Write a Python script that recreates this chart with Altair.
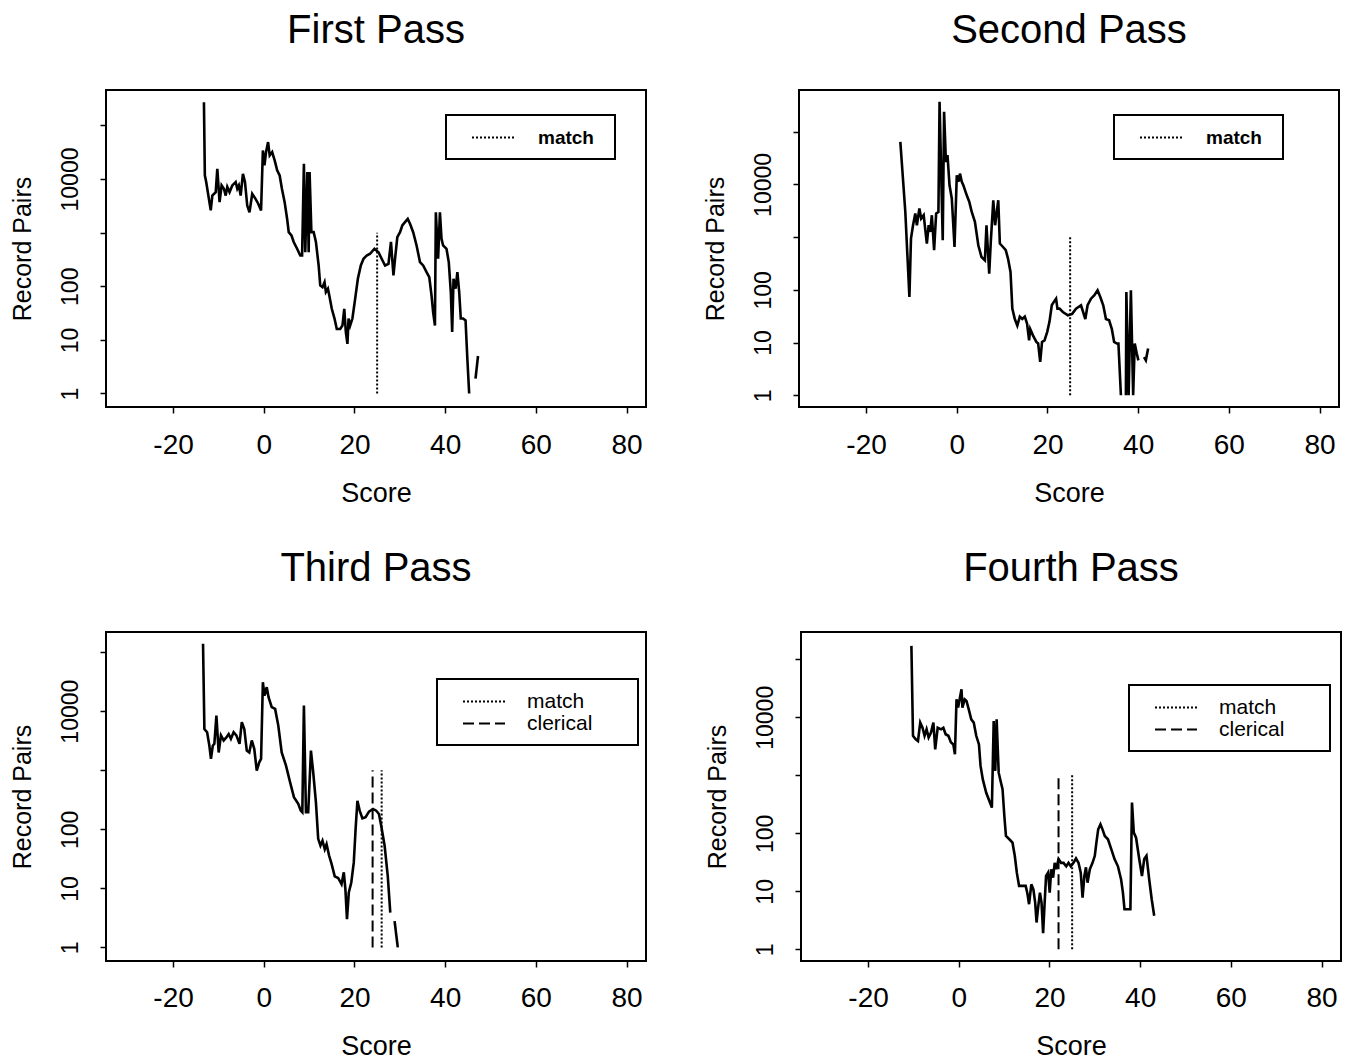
import altair as alt
import pandas as pd

# ---------------- data ----------------
X_TICKS = [-20, 0, 20, 40, 60, 80]
Y_TICKS = [1, 10, 100, 1000, 10000, 100000]

# First pass
p1_score_a = [-13.2, -13.0, -12.7, -11.7, -11.35, -10.6, -10.25, -9.75, -9.3, -8.8, -8.4, -8.05, -7.55, -6.95,
              -6.2, -5.85, -5.5, -5.1, -4.6, -4.15, -3.65, -3.15, -2.55, -1.85, -1.25, -0.6, -0.2, 0.15, 0.5,
              0.95, 1.3, 1.85, 2.4, 2.95, 3.5, 4.0, 4.6, 5.15, 5.5, 6.1, 6.6, 7.35, 8.05, 8.45, 8.85, 9.15,
              9.6, 9.9, 10.1, 10.5, 11.0, 11.5, 12.1, 12.45, 12.95, 13.4, 13.7, 14.15, 14.45, 15.0, 15.6,
              16.1, 16.85, 17.35, 17.75, 18.1, 18.45, 18.7, 19.05, 19.55, 20.15, 20.75, 21.4, 22.0, 22.7,
              23.45, 24.4, 25.3, 26.0, 26.75, 27.5, 28.05, 28.6, 28.95, 29.45, 30.05, 30.55, 31.15, 31.75,
              32.25, 32.95, 33.7, 34.45, 35.15, 35.9, 36.5, 37.0, 37.35, 37.75, 37.95, 38.45, 38.85, 39.2,
              39.55, 40.3, 40.8, 41.25, 41.55, 41.85, 42.3, 42.7, 43.1, 43.45, 43.95, 44.5, 44.9, 45.3]
p1_pairs_a = [270000, 11700, 8800, 2600, 4900, 5700, 15500, 3700, 7600, 6600, 4900, 7100, 5700, 7600,
              8800, 6600, 7600, 4900, 12500, 8800, 3200, 2400, 5300, 4300, 3500, 2600, 34000, 17900, 31800,
              48900, 27500, 31800, 22200, 14500, 11700, 6600, 3700, 1800, 1020, 890, 670, 500, 375, 375, 19300, 430,
              13500, 430, 13500, 1020, 1020, 670, 244, 104, 96, 119, 78, 90, 67, 38, 25,
              16, 16, 18.5, 38, 14, 8.4, 25, 18.5, 25, 58, 138, 244, 325, 375,
              404, 500, 430, 325, 244, 262, 670, 159, 325, 820, 1020, 1360, 1570, 1800,
              1460, 1020, 577, 282, 244, 183, 148, 67, 33, 18.5, 2400, 325, 2400, 770,
              577, 500, 282, 78, 14, 138, 90, 183, 78, 25, 25, 23, 4.4, 1]
p1_score_b = [46.7, 47.25]
p1_pairs_b = [1.9, 5]
p1_cut_score = [25]
p1_cut_type = ["match"]

# Second pass
p2_score_a = [-12.45, -11.35, -10.45, -10.1, -9.65, -9.15, -8.8, -8.25, -7.85, -7.3, -6.6, -6.2, -5.85, -5.5,
              -5.0, -4.55, -4.05, -3.8, -3.1, -2.8, -2.4, -2.05, -1.6, -1.1, -0.5, 0.0, 0.35, 0.7, 1.1, 1.45,
              2.2, 2.75, 3.3, 4.0, 4.75, 5.45, 6.2, 6.55, 7.15, 7.5, 8.05, 8.45, 9.15, 9.5, 10.2, 10.8, 11.3,
              11.85, 12.25, 12.8, 13.35, 13.9, 14.45, 15.0, 15.5, 15.95, 16.2, 16.8, 17.55, 17.95, 18.4, 18.8,
              19.35, 19.95, 20.45, 20.95, 21.4, 21.9, 22.2, 22.65, 23.4, 24.5, 25.45, 26.3, 27.4, 28.35, 28.85,
              29.6, 30.35, 31.05, 31.65, 32.3, 32.9, 33.6, 34.2, 34.7, 35.3, 35.65, 36.2]
p2_pairs_a = [64000, 3000, 73, 940, 1680, 2800, 1680, 3500, 2250, 2600, 755, 1680, 1260, 2600,
              564, 2800, 3000, 368000, 873, 238000, 26700, 35800, 9600, 5400, 650, 14900, 11200, 16000, 11200, 9600,
              6200, 4700, 3000, 1950, 700, 420, 364, 1680, 203, 811, 5000, 1680, 5000, 755, 650, 564, 392,
              219, 44, 28, 21, 31, 28, 31, 23, 11, 18, 13.7, 10.3, 9.6, 4.3, 10.3,
              11, 16, 25, 51, 59, 68, 44, 44, 38, 33, 35, 44, 51, 28, 51,
              68, 79, 98, 73, 51, 28, 26.5, 18, 10.3, 9.6, 9.6, 1]
p2_score_b = [37.3, 37.4, 37.9, 38.4, 38.9, 39.25, 39.7, 40.05]
p2_pairs_b = [1, 91, 1, 98, 1, 9.6, 6.2, 4.6]
p2_score_c = [41.3, 41.7, 42.2]
p2_pairs_c = [5.3, 4.6, 7.7]
p2_cut_score = [25]
p2_cut_type = ["match"]

# Third pass
p3_score_a = [-13.4, -13.1, -12.5, -12.0, -11.65, -11.25, -10.9, -10.45, -9.95, -9.45, -8.85, -8.25, -7.75,
              -7.25, -6.65, -6.05, -5.35, -4.85, -4.3, -3.75, -3.2, -2.65, -2.1, -1.55, -1.0, -0.6, -0.2, 0.15,
              0.65, 1.05, 1.75, 2.5, 3.2, 3.95, 4.9, 5.8, 6.65, 7.6, 8.15, 8.5, 8.85, 9.3, 9.8, 10.4, 10.9,
              11.5, 12.0, 12.5, 12.95, 13.45, 13.85, 14.4, 14.95, 15.65, 16.4, 17.15, 17.65, 18.0, 18.35,
              18.75, 19.3, 19.85, 20.25, 20.65, 21.15, 21.75, 22.45, 23.2, 24.1, 24.8, 25.4, 25.9, 26.65,
              27.35, 27.9]
p3_pairs_a = [138000, 5000, 4400, 2600, 1560, 2600, 2800, 8400, 2000, 3900, 3200, 3600, 4100,
              3400, 4400, 3900, 2800, 6500, 5000, 2150, 2000, 3200, 2300, 990, 1360, 1560, 31000, 18400,
              25500, 17300, 11700, 10900, 5700, 2000, 1200, 625, 350, 270, 207, 194, 12500, 194, 194, 2150, 925,
              287, 69, 53, 64, 46, 56, 36, 26, 16, 15, 11.8, 18.7, 9.7, 3.0,
              8.5, 12.6, 27.5, 101, 305, 207, 153, 160, 199, 221, 207, 182, 115, 53,
              16, 3.9]
p3_score_b = [28.85, 29.55]
p3_pairs_b = [2.8, 1]
p3_cut_score = [26, 24]
p3_cut_type = ["match", "clerical"]

# Fourth pass
p4_score_a = [-10.45, -10.1, -9.55, -9.0, -8.5, -8.0, -7.55, -7.1, -6.65, -6.15, -5.6, -5.2, -4.65, -3.9,
              -3.4, -2.9, -2.3, -1.75, -1.2, -0.85, -0.5, -0.15, 0.25, 0.6, 0.8, 1.3, 1.7, 2.2, 2.75, 3.3,
              3.85, 4.45, 4.8, 5.3, 6.05, 6.75, 7.3, 7.7, 8.05, 8.35, 8.8, 9.3, 9.65, 10.05, 10.4, 11.15,
              11.85, 12.35, 12.8, 13.3, 14.05, 14.75, 15.1, 15.5, 16.0, 16.45, 16.85, 17.15, 17.45, 17.9,
              18.25, 18.6, 18.9, 19.25, 19.7, 20.05, 20.4, 20.8, 21.15, 21.5, 22.0, 22.55, 23.1, 23.7, 24.2,
              24.7, 25.3, 25.85, 26.4, 26.9, 27.3, 27.7, 28.05, 28.4, 28.9, 29.5, 30.0, 30.35, 30.75, 31.25,
              31.7, 32.2, 32.9, 33.65, 34.35, 35.1, 35.8, 36.2, 36.55, 37.25, 37.85, 38.2, 38.6, 39.1, 39.8,
              40.4, 40.9, 41.4, 42.0, 42.55, 43.1]
p4_pairs_a = [170000, 4800, 4200, 3900, 8100, 6600, 4800, 6200, 4500, 5400, 8100, 2800, 6600, 6200,
              6600, 5100, 4800, 3700, 3400, 2300, 20400, 14700, 21800, 30400, 14700, 20400, 19100, 13700, 9200, 8100,
              4800, 3400, 1450, 850, 500, 360, 277, 8600, 1190, 9200, 1110, 750, 575, 199, 90, 79,
              69, 41, 21, 12.4, 12.4, 12.4, 9.5, 6.0, 13.2, 10.8, 6.4, 2.9, 4.9, 9.5,
              6.4, 1.9, 5.6, 18.4, 21, 9.5, 24, 17.2, 31, 24, 36, 31, 31, 27, 31,
              27, 31, 37, 31, 21, 7.8, 18.4, 26, 14.1, 24, 31, 41, 69, 117, 143,
              117, 90, 79, 53, 36, 27, 16, 9.5, 4.9, 4.9, 4.9, 338, 103, 84, 36,
              18.4, 36, 41, 16, 7.3, 3.8]
p4_cut_score = [25, 22]
p4_cut_type = ["match", "clerical"]

CUT_LOW = 1
CUT_HIGH = 1000

# ---------------- styling / layout ----------------
FONT = "Liberation Sans"
X_DOMAIN = [-34.8, 84.3]
W = 540
DASHES = {"match": [2, 2], "clerical": [11, 5]}


def series(parts):
    rows = []
    for seg, (sc, pr) in enumerate(parts):
        for s, p in zip(sc, pr):
            rows.append({"score": s, "pairs": p, "seg": seg})
    return pd.DataFrame(rows)


def panel(title, parts, cut_score, cut_type, ydom, height, leg_xy, leg_weight, leg_font, leg_lab_off,
          leg_tail, title_off, xlab_pad):
    df = series(parts)
    cuts = pd.DataFrame({"score": cut_score, "type": cut_type,
                         "lo": [CUT_LOW] * len(cut_score), "hi": [CUT_HIGH] * len(cut_score)})
    order = [t for t in ["match", "clerical"] if t in cut_type]
    xscale = alt.Scale(domain=X_DOMAIN, nice=False, zero=False)
    yscale = alt.Scale(type="log", domain=ydom, nice=False)
    xaxis = alt.Axis(values=X_TICKS, labelExpr="'' + datum.value", title="Score", grid=False,
                     domain=False, tickColor="black", tickWidth=1.5, tickSize=6, labelPadding=xlab_pad,
                     labelFontSize=28, labelFont=FONT, labelColor="black", titleFont=FONT,
                     titleFontSize=27, titleFontWeight="normal", titleColor="black", titlePadding=21)
    yaxis = alt.Axis(values=Y_TICKS,
                     labelExpr="(datum.value == 1000 || datum.value == 100000) ? '' : '' + datum.value",
                     title="Record Pairs", grid=False, domain=False, tickColor="black", tickWidth=1.5,
                     tickSize=6, labelAngle=-90, labelPadding=18, labelFontSize=23, labelFont=FONT,
                     labelColor="black", titleFont=FONT, titleFontSize=25, titleFontWeight="normal",
                     titleColor="black", titlePadding=24, labelOverlap=False)
    line = alt.Chart(df).mark_line(color="black", strokeWidth=2.6, strokeJoin="miter").encode(
        x=alt.X("score:Q", scale=xscale, axis=xaxis),
        y=alt.Y("pairs:Q", scale=yscale, axis=yaxis),
        detail="seg:N",
        order="score:Q",
    )
    rules = alt.Chart(cuts).mark_rule(color="black", strokeWidth=2).encode(
        x=alt.X("score:Q", scale=xscale),
        y=alt.Y("lo:Q", scale=yscale),
        y2="hi:Q",
        strokeDash=alt.StrokeDash(
            "type:N",
            scale=alt.Scale(domain=order, range=[DASHES[t] for t in order]),
            legend=alt.Legend(title="M" * leg_tail, titleOrient="right", titleFontSize=10, titleOpacity=0,
                              titlePadding=1, titleFont=FONT,
                              orient="none", legendX=leg_xy[0], legendY=leg_xy[1],
                              symbolType="M-2,0L2,0", symbolStrokeColor="black", symbolStrokeWidth=2,
                              symbolFillColor="transparent",
                              symbolSize=441, symbolOffset=24.5, labelOffset=leg_lab_off, labelFont=FONT,
                              labelFontSize=leg_font, labelFontWeight=leg_weight, labelColor="black",
                              padding=11, rowPadding=0, strokeColor="black", fillColor="white"),
        ),
    )
    return alt.layer(line, rules).properties(
        width=W, height=height,
        title=alt.TitleParams(title, font=FONT, fontSize=40, fontWeight="normal", color="black",
                              anchor="middle", offset=title_off),
    )


c1 = panel("First Pass", [(p1_score_a, p1_pairs_a), (p1_score_b, p1_pairs_b)],
           p1_cut_score, p1_cut_type, [0.56, 457000], 317, (340, 25), "bold", 19, 33.5, 1, 39, 18)
c2 = panel("Second Pass", [(p2_score_a, p2_pairs_a), (p2_score_b, p2_pairs_b), (p2_score_c, p2_pairs_c)],
           p2_cut_score, p2_cut_type, [0.60, 617000], 317, (315, 25), "bold", 19, 33.5, 1, 39, 18)
c3 = panel("Third Pass", [(p3_score_a, p3_pairs_a), (p3_score_b, p3_pairs_b)],
           p3_cut_score, p3_cut_type, [0.59, 219000], 329, (331, 47), "normal", 21, 31.5, 4, 43, 17)
c4 = panel("Fourth Pass", [(p4_score_a, p4_pairs_a)],
           p4_cut_score, p4_cut_type, [0.63, 295000], 329, (328, 53), "normal", 21, 31.5, 4, 43, 17)

row1 = alt.hconcat(c1, c2, spacing=54).resolve_scale(strokeDash="independent").resolve_legend(
    strokeDash="independent")
row2 = alt.hconcat(c3, c4, spacing=57).resolve_scale(strokeDash="independent").resolve_legend(
    strokeDash="independent")

chart = alt.vconcat(row1, row2, spacing=41).resolve_scale(strokeDash="independent").resolve_legend(
    strokeDash="independent").properties(
    padding={"left": 0, "top": 2, "right": 0, "bottom": 0}
).configure(
    background="white",
    view=alt.ViewConfig(stroke="black", strokeWidth=2),
    legend=alt.LegendConfig(strokeWidth=2),
)

chart.save("out.html", embed_options={"renderer": "svg", "actions": False})
